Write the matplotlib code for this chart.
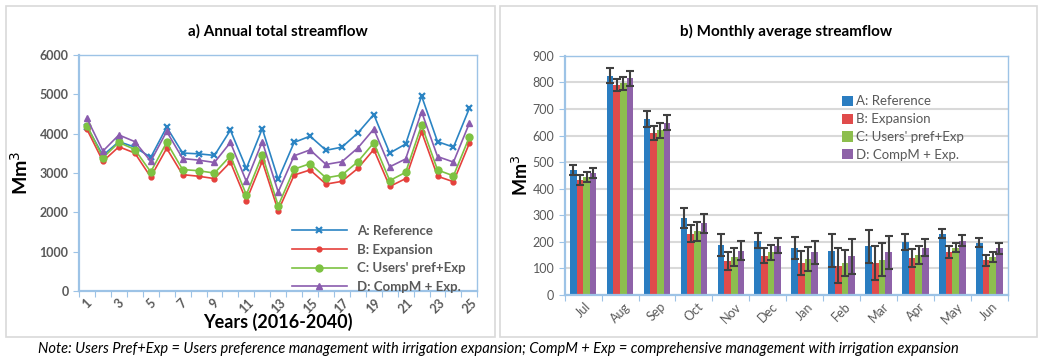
import matplotlib
matplotlib.use("Agg")
import matplotlib.pyplot as plt
import numpy as np
from matplotlib.patches import Rectangle, Patch

plt.rcParams['font.family'] = ['Lato', 'DejaVu Sans']

# --- annual totals (Mm3), years 1..25 = 2016-2040
years = list(range(1, 26))
ref_annual = [4180, 3450, 3800, 3660, 3400, 4170, 3510, 3490, 3450, 4090, 3120, 4130, 2840,
              3780, 3940, 3580, 3660, 4020, 4490, 3510, 3740, 4960, 3800, 3660, 4650]
exp_annual = [4110, 3300, 3670, 3510, 2900, 3630, 2960, 2920, 2860, 3280, 2300, 3300, 2040,
              2950, 3080, 2720, 2790, 3120, 3600, 2660, 2860, 4050, 2920, 2780, 3760]
pref_annual = [4210, 3390, 3780, 3600, 3030, 3780, 3090, 3060, 3000, 3440, 2450, 3460, 2170,
               3100, 3240, 2880, 2950, 3290, 3770, 2810, 3020, 4220, 3080, 2930, 3920]
comp_annual = [4390, 3560, 3970, 3800, 3300, 4060, 3370, 3330, 3270, 3780, 2790, 3800, 2520,
               3440, 3590, 3220, 3290, 3640, 4120, 3160, 3360, 4560, 3420, 3280, 4270]

# --- monthly averages (Mm3) with error bar half-widths
months = ['Jul', 'Aug', 'Sep', 'Oct', 'Nov', 'Dec', 'Jan', 'Feb', 'Mar', 'Apr', 'May', 'Jun']
ref_month = [470, 825, 663, 290, 188, 205, 178, 167, 183, 200, 230, 197]
exp_month = [432, 790, 610, 230, 128, 148, 122, 110, 120, 138, 162, 130]
pref_month = [443, 797, 620, 240, 142, 160, 135, 120, 133, 150, 178, 143]
comp_month = [460, 815, 648, 270, 167, 185, 160, 145, 160, 178, 205, 175]
ref_err = [18, 28, 30, 38, 40, 27, 42, 62, 62, 31, 17, 18]
exp_err = [18, 24, 27, 32, 35, 29, 45, 66, 63, 34, 22, 22]
pref_err = [18, 25, 28, 35, 34, 27, 45, 48, 63, 33, 17, 19]
comp_err = [18, 28, 28, 35, 37, 28, 44, 65, 63, 32, 20, 19]

names = ['A: Reference', 'B: Expansion', "C: Users' pref+Exp", 'D: CompM + Exp.']
line_colors = ['#2B84C3', '#E5413C', '#7DC242', '#8A5CAE']
bar_colors = ['#2A7DC1', '#E04B4B', '#8DBE4E', '#8E62A8']
frame_blue = '#9DC3E6'
tick_gray = '#595959'

fig = plt.figure(figsize=(10.4, 3.58), dpi=100)

# panel borders
for x0, w in [(0.006, 0.470), (0.481, 0.516)]:
    fig.patches.append(Rectangle((x0, 0.058), w, 0.925, transform=fig.transFigure,
                                 fill=False, edgecolor='#D9D9D9', linewidth=1.2))

# ---------------- a) annual totals ----------------
ax1 = fig.add_axes([0.076, 0.187, 0.383, 0.659])
series = [ref_annual, exp_annual, pref_annual, comp_annual]
markers = [dict(marker='x', ms=4, mew=1.6), dict(marker='o', ms=3.5),
           dict(marker='o', ms=5), dict(marker='^', ms=5)]
for vals, c, m, n in zip(series, line_colors, markers, names):
    ax1.plot(years, vals, color=c, lw=1.2, mfc=c, mec=c, label=n, **m)
ax1.set_xlim(0.5, 25.5)
ax1.set_ylim(0, 6000)
ax1.set_yticks(range(0, 6001, 1000))
ax1.set_xticks(np.arange(0.5, 26, 1))
ax1.set_xticklabels([])
ax1.set_xticks(years[::2], minor=True)
ax1.set_xticklabels([str(y) for y in years[::2]], minor=True, rotation=45,
                    fontsize=9, fontweight='bold', color=tick_gray)
ax1.tick_params(axis='x', which='minor', length=0, pad=4)
ax1.tick_params(axis='x', which='major', length=4, color=frame_blue, direction='out')
ax1.tick_params(axis='y', length=4, color=frame_blue, labelsize=9, labelcolor=tick_gray)
for lab in ax1.get_yticklabels():
    lab.set_fontweight('bold')
for s in ax1.spines.values():
    s.set_color(frame_blue)
    s.set_linewidth(1.0)
ax1.spines['left'].set_linewidth(1.6)
ax1.spines['bottom'].set_linewidth(1.6)
ax1.set_title('a) Annual total streamflow', fontsize=11, fontweight='bold', pad=14)
ax1.set_ylabel('Mm$^3$', fontsize=14, fontweight='bold', labelpad=6)
ax1.set_xlabel('Years (2016-2040)', fontsize=13, fontweight='bold', labelpad=-2)
leg1 = ax1.legend(loc='lower right', frameon=False, fontsize=9.5, handlelength=4.2,
                  labelspacing=0.5, borderaxespad=0.0, bbox_to_anchor=(0.985, -0.03))
for t in leg1.get_texts():
    t.set_fontweight('bold')
    t.set_color(tick_gray)

# ---------------- b) monthly averages ----------------
ax2 = fig.add_axes([0.543, 0.176, 0.426, 0.668])
x = np.arange(len(months))
width = 0.18
mvals = [ref_month, exp_month, pref_month, comp_month]
merrs = [ref_err, exp_err, pref_err, comp_err]
for i, (vals, errs, c, n) in enumerate(zip(mvals, merrs, bar_colors, names)):
    ax2.bar(x + (i - 1.5) * width, vals, width, color=c, label=n, zorder=2,
            yerr=errs, error_kw=dict(ecolor='#404040', elinewidth=1.5, capsize=3.2,
                                     capthick=1.5, zorder=3))
ax2.set_xlim(-0.5, len(months) - 0.5)
ax2.set_ylim(0, 900)
ax2.set_yticks(range(0, 901, 100))
ax2.yaxis.grid(True, color='#D9D9D9', lw=1.5, zorder=0)
ax2.set_axisbelow(True)
ax2.set_xticks(np.arange(-0.5, len(months), 1))
ax2.set_xticklabels([])
ax2.set_xticks(x, minor=True)
ax2.set_xticklabels(months, minor=True, rotation=45, fontsize=9, color=tick_gray)
ax2.tick_params(axis='x', which='minor', length=0, pad=4)
ax2.tick_params(axis='x', which='major', length=4, color=frame_blue)
ax2.tick_params(axis='y', length=4, color=frame_blue, labelsize=9, labelcolor=tick_gray)
for s in ax2.spines.values():
    s.set_color(frame_blue)
    s.set_linewidth(1.0)
ax2.spines['left'].set_linewidth(1.6)
ax2.spines['bottom'].set_linewidth(1.6)
ax2.set_title('b) Monthly average streamflow', fontsize=11, fontweight='bold', pad=14)
ax2.set_ylabel('Mm$^3$', fontsize=13, fontweight='bold', labelpad=1)
handles2 = [Patch(facecolor=c) for c in bar_colors]
leg2 = ax2.legend(handles2, names, loc='upper left', bbox_to_anchor=(0.6, 0.885),
                  frameon=False, fontsize=9.5, handlelength=0.8, handleheight=0.8,
                  handletextpad=0.2, labelspacing=0.45)
for t in leg2.get_texts():
    t.set_color(tick_gray)

fig.text(0.479, 0.025, 'Note: Users Pref+Exp = Users preference management with irrigation '
         'expansion; CompM + Exp = comprehensive management with irrigation expansion',
         ha='center', va='center', fontsize=10.5, style='italic')

fig.savefig('out.png', dpi=100)
